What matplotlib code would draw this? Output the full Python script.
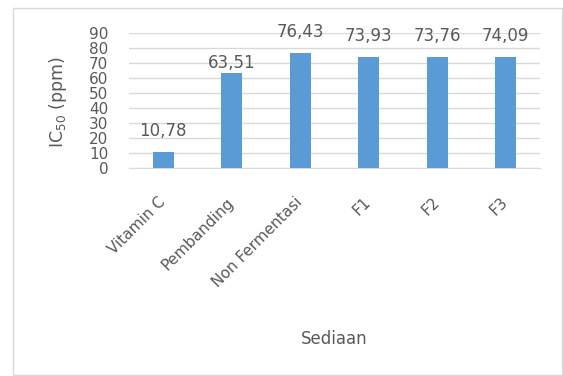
import matplotlib.pyplot as plt
from matplotlib.patches import Rectangle

# data
sediaan = ['Vitamin C', 'Pembanding', 'Non Fermentasi', 'F1', 'F2', 'F3']
ic50 = [10.78, 63.51, 76.43, 73.93, 73.76, 74.09]
yticks = list(range(0, 100, 10))

plt.rcParams['font.family'] = ['DejaVu Sans']
grey = '#595959'

fig = plt.figure(figsize=(5.63, 3.76), dpi=100)
ax = fig.add_axes([129/563, 1 - 168/376, 411/563, 135/376])

# outer chart border
fig.patches.append(Rectangle((13/563, 1/376), 549/563, 367/376, transform=fig.transFigure,
                             fill=False, edgecolor='#d9d9d9', linewidth=1))

x = range(len(sediaan))
ax.bar(x, ic50, width=0.3, color='#5b9bd5', zorder=3)

# label offsets (points); the Pembanding label sits lower in the original
label_dy = [11.5, 3.5, 11.5, 11.5, 11.5, 11.5]
for xi, v, dy in zip(x, ic50, label_dy):
    ax.annotate(f'{v:.2f}'.replace('.', ','), (xi, v), xytext=(0, dy), textcoords='offset points',
                ha='center', va='baseline', fontsize=12, color=grey)

ax.set_xlim(-0.5, len(sediaan) - 0.5)
ax.set_ylim(0, 90)
ax.set_yticks(yticks)
ax.set_yticklabels([str(t) for t in yticks], fontsize=11, color=grey)
ax.set_xticks(list(x))
ax.set_xticklabels(sediaan, rotation=45, ha='right', va='center', rotation_mode='anchor',
                   fontsize=11, color=grey)
ax.tick_params(length=0)
ax.tick_params(axis='y', pad=15)
ax.tick_params(axis='x', pad=23)

ax.grid(axis='y', color='#d9d9d9', linewidth=1, zorder=0)
for s in ['top', 'right', 'left']:
    ax.spines[s].set_visible(False)
ax.spines['bottom'].set_color('#d9d9d9')

ax.set_ylabel('IC$_{50}$ (ppm)', fontsize=12.5, color=grey)
ax.yaxis.set_label_coords(-0.146, 0.49)
ax.set_xlabel('Sediaan', fontsize=12, color=grey)
ax.xaxis.set_label_coords(0.5, -1.2)

fig.savefig('out.png', dpi=100)
